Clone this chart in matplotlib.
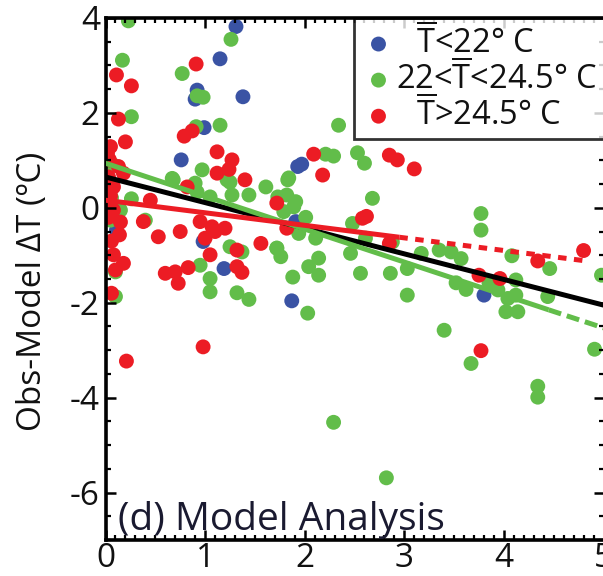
import matplotlib
matplotlib.use("Agg")
import matplotlib.pyplot as plt
from matplotlib.ticker import MultipleLocator

plt.rcParams['font.family'] = ['Open Sans', 'DejaVu Sans']
plt.rcParams['mathtext.fontset'] = 'custom'
plt.rcParams['mathtext.rm'] = 'Open Sans'
plt.rcParams['mathtext.it'] = 'Open Sans'

# ---- data ----
blue_x = [1.31, 1.15, 0.92, 0.90, 1.38, 0.99, 0.76, 1.93, 1.97, 0.11, 0.98, 1.19, 1.91, 1.87, 3.80]
blue_y = [3.82, 3.14, 2.48, 2.29, 2.34, 1.69, 1.01, 0.87, 0.92, -0.47, -0.71, -1.28, -0.29, -1.96, -1.84]

green_x = [0.23, 1.26, 0.17, 0.77, 0.92, 0.98, 0.26, 0.91, 1.15, 0.97, 0.67, 1.22, 0.90, 1.61,
           1.27, 1.44, 0.26, 0.06, 1.83, 1.73, 1.05, 0.92, 1.89, 0.05, 0.40, 1.25, 1.37, 1.72,
           1.76, 0.95, 1.05, 1.05, 1.32, 1.44, 1.88, 0.10, 0.10, 0.15, 0.08, 0.04, 0.68, 1.25,
           2.34, 2.21, 2.29, 2.53, 2.60, 1.84, 1.82, 1.91, 2.68, 1.79, 2.01, 2.48, 2.11, 1.94,
           2.61, 2.88, 2.14, 2.46, 2.04, 2.14, 2.56, 2.86, 3.03, 3.17, 3.03, 2.03, 3.35, 3.47,
           3.57, 3.77, 3.77, 4.08, 4.46, 3.52, 3.62, 3.85, 3.94, 4.04, 4.12, 4.12, 4.44, 4.02,
           4.14, 3.40, 3.67, 4.34, 4.34, 2.29, 2.82, 4.91, 4.98, 1.72]
green_y = [3.94, 3.55, 3.11, 2.83, 2.36, 2.33, 1.92, 1.71, 1.74, 0.80, 0.62, 0.59, 0.52, 0.44,
           0.27, 0.27, 0.19, 0.21, 0.59, 0.23, 0.23, 0.33, 0.02, -0.26, -0.26, -0.82, -0.93, -0.85,
           -1.03, -1.21, -1.49, -1.77, -1.79, -1.93, -1.46, -1.35, -1.87, -0.05, 0.90, 0.50, 0.59, 0.54,
           1.74, 1.13, 1.09, 1.16, 0.94, 0.63, 0.27, 0.13, 0.20, -0.08, -0.20, -0.33, -0.64, -0.54,
           -0.64, -0.72, -1.06, -0.96, -1.24, -1.42, -1.38, -1.38, -1.28, -0.96, -1.84, -2.22, -0.89, -0.93,
           -1.07, -0.12, -0.47, -1.01, -1.28, -1.58, -1.72, -1.58, -1.73, -1.91, -1.84, -1.52, -1.87, -2.19,
           -2.19, -2.58, -3.28, -3.76, -3.99, -4.52, -5.69, -2.98, -1.42, -0.85]

red_x = [0.91, 0.11, 0.26, 0.13, 0.87, 0.79, 0.20, 0.05, 1.12, 1.27, 0.04, 1.24, 0.13, 1.12,
         0.18, 1.40, 0.82, 0.08, 0.45, 0.04, 0.08, 0.15, 0.14, 0.38, 0.53, 0.75, 0.95, 1.07,
         1.20, 1.10, 1.00, 1.05, 1.32, 1.56, 0.08, 0.18, 0.10, 0.60, 0.70, 0.83, 1.32, 1.37,
         0.73, 0.06, 0.98, 0.21, 2.09, 2.85, 2.93, 3.10, 2.18, 1.72, 1.82, 2.58, 2.62, 2.85,
         3.75, 3.96, 4.34, 4.80, 3.77, 0.02, 0.03, 0.05, 0.03, 0.06]
red_y = [3.03, 2.80, 2.57, 1.87, 1.62, 1.51, 1.39, 1.29, 1.18, 1.01, 1.01, 0.81, 0.87, 0.73,
         0.73, 0.59, 0.44, 0.44, 0.16, 0.10, -0.05, -0.30, -0.57, -0.29, -0.61, -0.50, -0.29, -0.40,
         -0.43, -0.50, -0.64, -0.99, -0.89, -0.75, -0.99, -1.17, -1.31, -1.38, -1.35, -1.26, -1.24, -1.36,
         -1.59, -1.80, -2.93, -3.23, 1.13, 1.11, 1.01, 0.82, 0.69, 0.10, -0.43, -0.22, -0.18, -0.75,
         -1.42, -1.49, -1.12, -0.90, -3.01, 1.15, 0.65, 0.25, -0.20, -0.70]

# regression lines (endpoints)
black_x = [0.0, 5.0]
black_y = [0.65, -2.05]
green_solid_x = [0.0, 4.45]
green_solid_y = [0.94, -2.15]
green_dash_x = [4.45, 5.0]
green_dash_y = [-2.15, -2.53]
red_solid_x = [0.0, 2.95]
red_solid_y = [0.16, -0.62]
red_dot_x = [2.95, 4.83]
red_dot_y = [-0.62, -1.12]

labels = [r'$\enspace\,\overline{\mathrm{T}}$<22° C',
          r'22<$\overline{\mathrm{T}}$<24.5° C',
          r'$\enspace\,\overline{\mathrm{T}}$>24.5° C']

c_blue = '#3a53a4'
c_green = '#62bd4a'
c_red = '#ec1c24'

fig = plt.figure(figsize=(6.03, 5.76), dpi=100)
W, H = 603.0, 576.0
ax = fig.add_axes([105.5 / W, (H - 540) / H, (603.5 - 105.5) / W, (540 - 18) / H])

s = 115
hb = ax.scatter(blue_x, blue_y, s=s, color=c_blue, edgecolors='none', zorder=1)
hg = ax.scatter(green_x, green_y, s=s, color=c_green, edgecolors='none', zorder=1.1)
hr = ax.scatter(red_x, red_y, s=s, color=c_red, edgecolors='none', zorder=1.2)

lw = 3.6
ax.plot(black_x, black_y, color='black', lw=lw, solid_capstyle='butt', zorder=3)
ax.plot(green_solid_x, green_solid_y, color=c_green, lw=lw, solid_capstyle='butt', zorder=3.1)
ax.plot(green_dash_x, green_dash_y, color=c_green, lw=lw, dashes=(2.6, 1.2), zorder=3.1)
ax.plot(red_solid_x, red_solid_y, color=c_red, lw=lw, solid_capstyle='butt', zorder=3.2)
ax.plot(red_dot_x, red_dot_y, color=c_red, lw=lw, dashes=(1.7, 1.5), zorder=3.2)

ax.set_xlim(0, 5)
ax.set_ylim(-7, 4)
ax.xaxis.set_minor_locator(MultipleLocator(0.1))
ax.yaxis.set_minor_locator(MultipleLocator(0.5))
ax.set_xticks([0, 1, 2, 3, 4, 5])
ax.set_xticklabels(['0', '1', '2', '3', '4', '5'])
ax.set_yticks([-6, -4, -2, 0, 2, 4])
ax.set_yticklabels(['-6', '-4', '-2', '0', '2', '4'])

for sp in ['left', 'bottom', 'top']:
    ax.spines[sp].set_linewidth(2.6)
ax.spines['right'].set_visible(False)

ax.tick_params(which='both', direction='in', top=True, right=True, colors='black',
               labelsize=24, labelcolor='#111111')
ax.tick_params(which='major', length=7, width=1.8)
ax.tick_params(which='minor', length=3.5, width=1.6)
ax.tick_params(axis='y', which='major', pad=4)
ax.tick_params(axis='x', which='major', pad=1.5)

ax.set_ylabel('Obs-Model ΔT (ºC)', fontsize=24, color='#111111', va='center')
ax.yaxis.set_label_coords((33 - 105.5) / 498.0, (540 - 291.5) / 522.0)

ax.text(0.025, 0.02, '(d) Model Analysis', transform=ax.transAxes, fontsize=28,
        color='#1a1a30', ha='left', va='baseline')

leg = ax.legend([hb, hg, hr], labels, loc='upper left', bbox_to_anchor=(0.499, 1.0),
                fontsize=23.5, frameon=True, fancybox=False, borderpad=0.2,
                handletextpad=0.0, handlelength=1.1, labelspacing=0.0,
                borderaxespad=0.0, scatterpoints=1, markerscale=1.0)
leg.get_frame().set_edgecolor('black')
leg.get_frame().set_linewidth(2.0)
leg.get_frame().set_facecolor('white')
leg.set_zorder(2)
for t in leg.get_texts():
    t.set_color('#111111')

fig.savefig('out.png', dpi=100)
